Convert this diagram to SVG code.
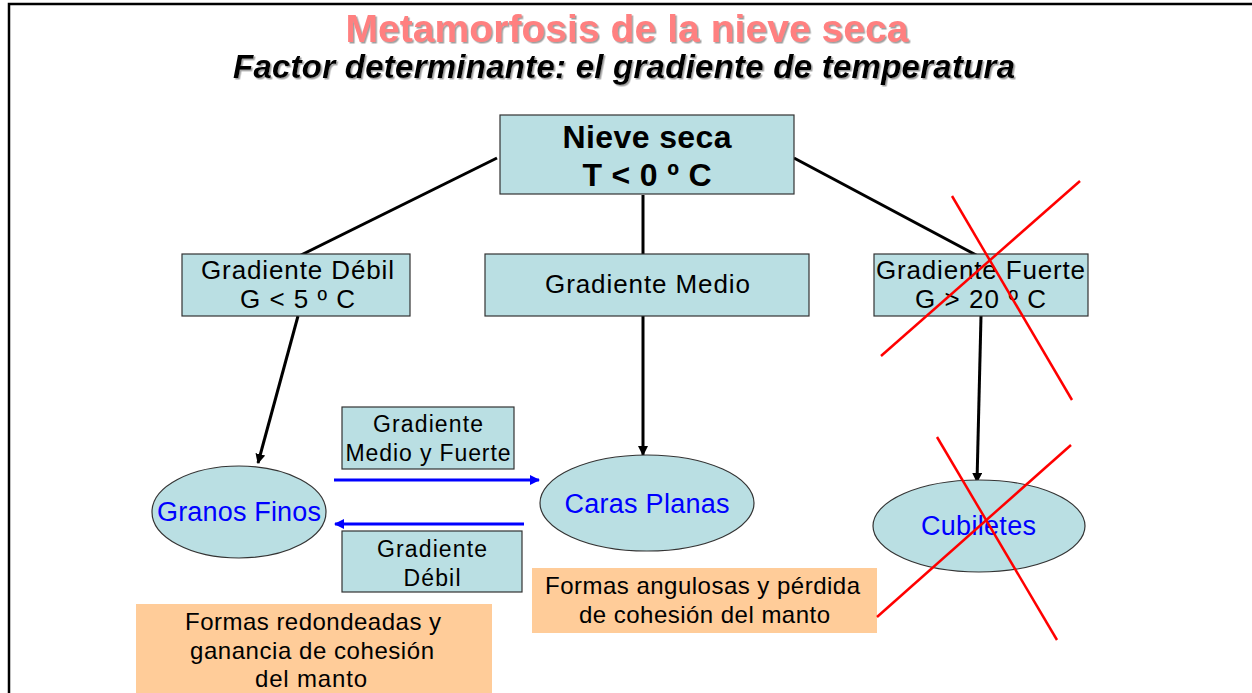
<svg xmlns="http://www.w3.org/2000/svg" width="1252" height="693" viewBox="0 0 1252 693">
<style>
text{font-family:"Liberation Sans",Arial,sans-serif;text-anchor:middle;}
.box{fill:#BADFE3;stroke:#333;stroke-width:1.2;}
.ell{fill:#BADFE3;stroke:#333;stroke-width:1.2;}
.note{fill:#FFCC99;stroke:none;}
.t{font-size:26px;fill:#000;}
.ts{font-size:23px;fill:#000;}
.tn{font-size:24px;fill:#000;}
.tb{font-size:32px;font-weight:bold;fill:#000;}
.blue{font-size:27px;fill:#0000FF;}
.con{stroke:#000;stroke-width:3;fill:none;}
.bl{stroke:#0000FF;stroke-width:3;fill:none;}
.x{stroke:#FF0000;stroke-width:2.5;fill:none;}
</style>
<defs>
<marker id="ah" markerWidth="10" markerHeight="10" refX="9" refY="5" orient="auto" markerUnits="userSpaceOnUse"><path d="M0,0 L10,5 L0,10 Z" fill="#000"/></marker>
<marker id="ahb" markerWidth="10" markerHeight="10" refX="9" refY="5" orient="auto" markerUnits="userSpaceOnUse"><path d="M0,0 L10,5 L0,10 Z" fill="#0000FF"/></marker>
<filter id="sh" x="-5%" y="-20%" width="110%" height="150%"><feDropShadow dx="1.5" dy="1.5" stdDeviation="0.3" flood-color="#888" flood-opacity="0.8"/></filter>
</defs>
<rect width="1252" height="693" fill="#fff"/>
<path d="M9,693 V4 H1252" fill="none" stroke="#000" stroke-width="2.5"/>

<g id="title">
<text x="627" y="42" font-size="39" font-weight="bold" fill="#FF8080" textLength="563" filter="url(#sh)">Metamorfosis de la nieve seca</text>
<text x="624" y="78" font-size="33" font-weight="bold" font-style="italic" fill="#000" textLength="782" filter="url(#sh)">Factor determinante: el gradiente de temperatura</text>
</g>

<g id="connectors">
<line class="con" x1="497" y1="158" x2="299" y2="256"/>
<line class="con" x1="643" y1="195" x2="643" y2="254"/>
<line class="con" x1="794" y1="158" x2="978" y2="256"/>
<line class="con" x1="298" y1="316" x2="258" y2="463" marker-end="url(#ah)"/>
<line class="con" x1="643" y1="316" x2="643" y2="455" marker-end="url(#ah)"/>
<line class="con" x1="981" y1="316" x2="977" y2="482" marker-end="url(#ah)"/>
<line class="bl" x1="334" y1="480" x2="539" y2="480" marker-end="url(#ahb)"/>
<line class="bl" x1="524" y1="524" x2="335" y2="524" marker-end="url(#ahb)"/>
</g>

<g id="nieve-seca">
<rect class="box" x="500" y="115" width="294" height="79"/>
<text class="tb" x="647" y="148" textLength="169">Nieve seca</text>
<text class="tb" x="647" y="186" textLength="129">T &lt; 0 º C</text>
</g>

<g id="gradiente-debil">
<rect class="box" x="182" y="254" width="228" height="62"/>
<text class="t" x="297.5" y="279" textLength="193">Gradiente Débil</text>
<text class="t" x="297.5" y="308" textLength="115">G &lt; 5 º C</text>
</g>

<g id="gradiente-medio">
<rect class="box" x="485" y="254" width="324" height="62"/>
<text class="t" x="647.5" y="293" textLength="205">Gradiente Medio</text>
</g>

<g id="gradiente-fuerte">
<rect class="box" x="874" y="254" width="214" height="62"/>
<text class="t" x="980.5" y="279" textLength="209">Gradiente Fuerte</text>
<text class="t" x="980.5" y="308" textLength="131">G &gt; 20 º C</text>
</g>

<g id="label-medio-fuerte">
<rect class="box" x="342" y="407" width="172" height="62"/>
<text class="ts" x="428" y="432" textLength="110">Gradiente</text>
<text class="ts" x="428" y="461" textLength="165">Medio y Fuerte</text>
</g>

<g id="label-debil">
<rect class="box" x="342" y="531" width="180" height="61"/>
<text class="ts" x="432" y="557" textLength="110">Gradiente</text>
<text class="ts" x="432" y="586" textLength="57">Débil</text>
</g>

<g id="granos-finos">
<ellipse class="ell" cx="239" cy="512" rx="87" ry="46"/>
<text class="blue" x="239" y="521" textLength="164">Granos Finos</text>
</g>

<g id="caras-planas">
<ellipse class="ell" cx="647" cy="503" rx="107" ry="48"/>
<text class="blue" x="647" y="513" textLength="165">Caras Planas</text>
</g>

<g id="cubiletes">
<ellipse class="ell" cx="979" cy="526" rx="106" ry="46"/>
<text class="blue" x="978.5" y="535" textLength="115">Cubiletes</text>
</g>

<g id="note-angulosas">
<rect class="note" x="532" y="568" width="345" height="65"/>
<text class="tn" x="702.5" y="594" textLength="315">Formas angulosas y pérdida</text>
<text class="tn" x="704.5" y="623" textLength="251">de cohesión del manto</text>
</g>

<g id="note-redondeadas">
<rect class="note" x="136" y="604" width="356" height="89"/>
<text class="tn" x="313" y="630" textLength="256">Formas redondeadas y</text>
<text class="tn" x="312" y="659" textLength="244">ganancia de cohesión</text>
<text class="tn" x="311" y="687" textLength="112">del manto</text>
</g>

<g id="cross-marks">
<line class="x" x1="952" y1="196" x2="1072" y2="400"/>
<line class="x" x1="1080" y1="181" x2="881" y2="356"/>
<line class="x" x1="937" y1="437" x2="1057" y2="640"/>
<line class="x" x1="1071" y1="445" x2="877" y2="617"/>
</g>
</svg>
